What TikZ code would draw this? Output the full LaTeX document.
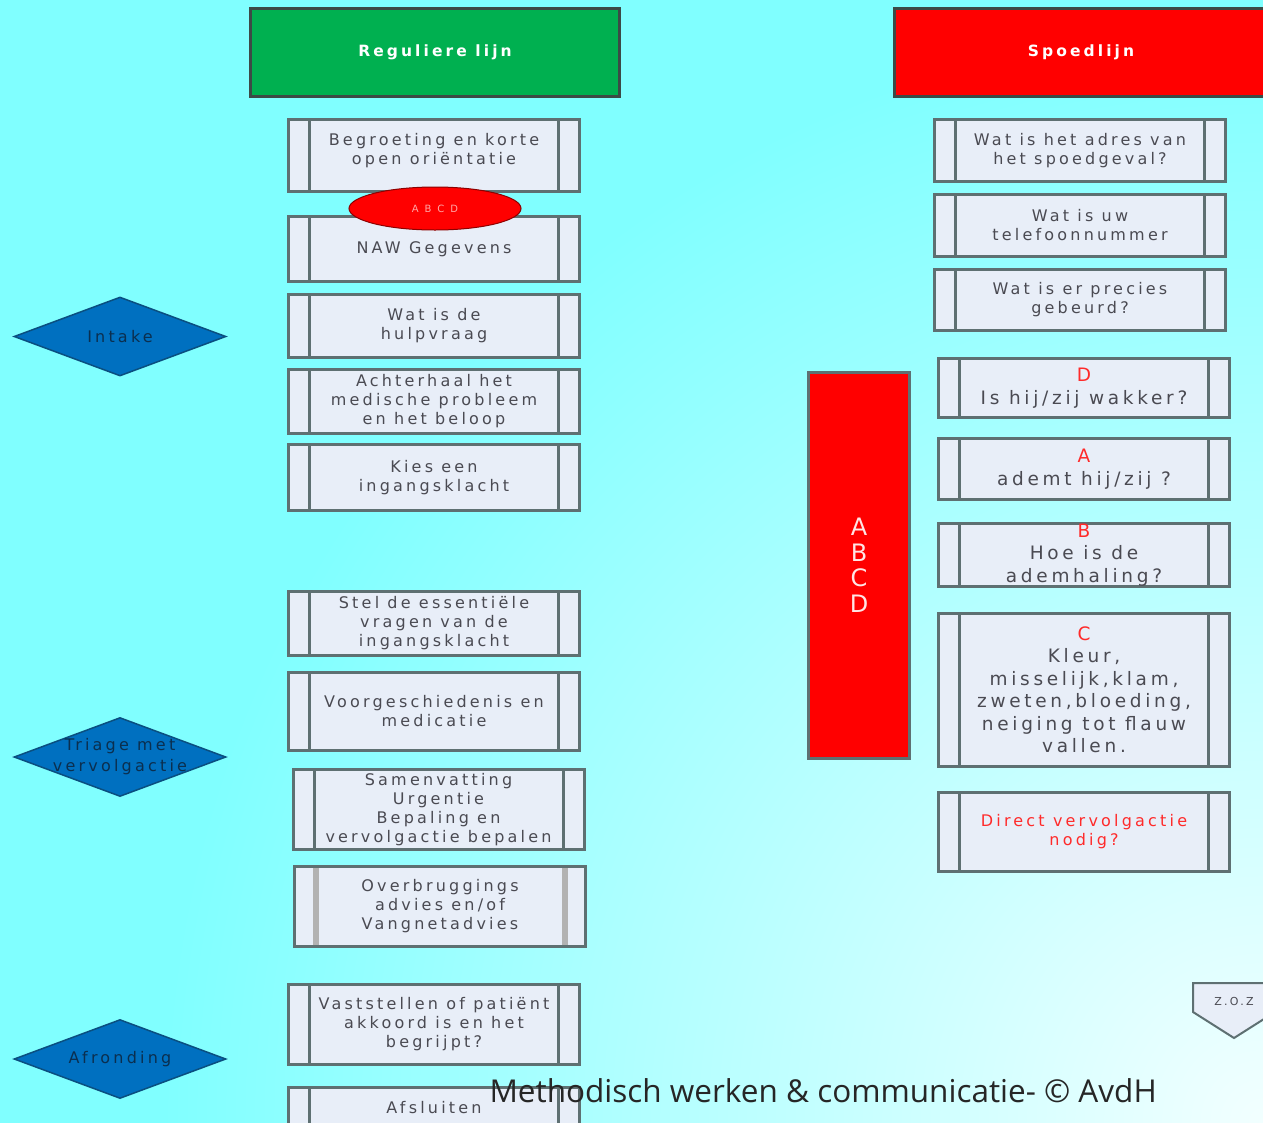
\documentclass[tikz,border=0pt]{standalone}
\usepackage{fontspec}
\setmainfont{DejaVu Sans}
\newfontfamily\boxfont[LetterSpace=20]{DejaVu Sans}
\newfontfamily\footfont{Open Sans}
\usetikzlibrary{shapes.geometric}

\definecolor{bgcyan}{HTML}{80FFFF}
\definecolor{bglight}{HTML}{F2FFFF}
\definecolor{boxfill}{HTML}{E8EEF8}
\definecolor{boxline}{HTML}{5E7072}
\definecolor{boxtext}{HTML}{4A4A52}
\definecolor{redtxt}{HTML}{FF2A2A}
\definecolor{hdgreen}{HTML}{00B050}
\definecolor{hdred}{HTML}{FF0000}
\definecolor{hdline}{HTML}{3C4A46}
\definecolor{diamfill}{HTML}{0070C0}
\definecolor{diamline}{HTML}{0A4F80}
\definecolor{diamtext}{HTML}{0B2F4F}

\tikzset{
  procinner/.style={boxline, line width=3pt},
  procbox/.style={draw=boxline, fill=boxfill, line width=3pt,
    minimum width=291pt, minimum height=#1, inner sep=0pt,
    align=center, text=boxtext, font=\boxfont\fontsize{16}{19}\selectfont,
    path picture={
      \draw[procinner]
        ([xshift=21pt]path picture bounding box.north west) -- ([xshift=21pt]path picture bounding box.south west)
        ([xshift=-21pt]path picture bounding box.north east) -- ([xshift=-21pt]path picture bounding box.south east);}},
  procbox/.default=63pt,
  abcdtext/.style={font=\boxfont\fontsize{18.5}{22.5}\selectfont},
  header/.style={minimum width=369pt, minimum height=88pt, line width=3pt, draw=hdline,
    text=white, font=\boxfont\bfseries\fontsize{15.5}{18}\selectfont},
  phase/.style={diamond, aspect=2.7, fill=diamfill, draw=diamline, line width=1.5pt,
    minimum width=212pt, minimum height=79pt, inner sep=0pt},
  phasetext/.style={align=center, text=diamtext, inner sep=0pt,
    font=\boxfont\fontsize{16}{21}\selectfont},
}

\begin{document}
\begin{tikzpicture}[x=1pt,y=-1pt]
\useasboundingbox (0,0) rectangle (1263,1122);
\fill[bgcyan] (-10,-10) rectangle (1273,1132);
\clip (0,0) rectangle (1263,1122);
\shade[inner color=bglight, outer color=bgcyan] (1263,1122) circle (1100);

% kopjes
\node[header, fill=hdgreen] (regulier) at (435,52.5) {Reguliere lijn};
\node[header, fill=hdred, minimum width=373pt] (spoed) at (1081,52.5) {Spoedlijn};

% fasen
\node[phase] (intake) at (120,336.5) {};
\node[phasetext] at (intake.center) {Intake};
\node[phase] (triage) at (120,757) {};
\node[phasetext] at (triage.center) {Triage met\\vervolgactie};
\node[phase] (afrond) at (120,1059) {};
\node[phasetext] at (afrond.center) {Afronding};

% reguliere lijn
\node[procbox=72pt] (begroet) at (434,155.5) {Begroeting en korte\\open oriëntatie\\[-12pt]\strut};
\node[procbox=65pt] (naw) at (434,249) {NAW Gegevens};
\node[ellipse, fill=hdred, draw=red!55!black, line width=1pt, minimum width=172pt, minimum height=43pt,
  inner sep=0pt, text=red!35!white, font=\boxfont\fontsize{10}{12}\selectfont\addfontfeature{LetterSpace=60}] (abcdkort) at (435,208.5) {ABCD};
\node[procbox=63pt] (hulp) at (434,326) {Wat is de\\hulpvraag};
\node[procbox=64pt] (achter) at (434,401.5) {Achterhaal het\\medische probleem\\en het beloop};
\node[procbox=66pt] (kies) at (434,477.5) {Kies een\\ingangsklacht};
\node[procbox=64pt] (stel) at (434,623.5) {Stel de essentiële\\vragen van de\\ingangsklacht};
\node[procbox=78pt] (voorg) at (434,711.5) {Voorgeschiedenis en\\medicatie};
\node[procbox=80pt] (samen) at (438.5,809.5) {Samenvatting\\Urgentie\\Bepaling en\\vervolgactie bepalen};
\node[procbox=80pt, procinner/.style={gray!60, line width=6pt}] (overbr) at (440,906.5) {Overbruggings\\advies en/of\\Vangnetadvies};
\node[procbox=80pt] (vastst) at (434,1024.5) {Vaststellen of patiënt\\akkoord is en het\\begrijpt?};
\node[procbox=42pt] (afsl) at (434,1108) {Afsluiten};

% spoedlijn
\node[procbox=62pt] (adres) at (1080,150.5) {Wat is het adres van\\het spoedgeval?};
\node[procbox=62pt] (tel) at (1080,225.5) {Wat is uw\\telefoonnummer};
\node[procbox=61pt] (gebeurd) at (1080,300) {Wat is er precies\\gebeurd?};
\node[procbox=59pt, abcdtext] (wakker) at (1084,388) {\textcolor{redtxt}{D}\\Is hij/zij wakker?};
\node[procbox=61pt, abcdtext] (ademt) at (1084,469) {\textcolor{redtxt}{A}\\ademt hij/zij ?};
\node[procbox=61pt, abcdtext] (ademhaling) at (1084,555) {\textcolor{redtxt}{B}\\Hoe is de\\ademhaling?};
\node[procbox=153pt, abcdtext] (kleur) at (1084,690) {\textcolor{redtxt}{C}\\Kleur,\\misselijk,klam,\\zweten,bloeding,\\neiging tot flauw\\vallen.};
\node[procbox=79pt, text=redtxt] (direct) at (1084,832) {Direct vervolgactie\\nodig?};

\node[fill=hdred, draw=boxline, line width=3pt, minimum width=101pt, minimum height=386pt, inner sep=0pt,
  align=center, text=red!10!white, font=\fontsize{24}{25.5}\selectfont] (abcd) at (859,565) {A\\B\\C\\D};

% z.o.z.
\draw[boxline, fill=boxfill, line width=2pt] (1193,983) -- (1275,983) -- (1275,1012) -- (1234,1038) -- (1193,1012) -- cycle;
\node[text=boxtext, font=\boxfont\fontsize{11}{12}\selectfont] (zoz) at (1234,1001) {Z.O.Z};

\node[font=\footfont\fontsize{31.5}{36}\selectfont, text=black!85, anchor=base west] (credit) at (486,1102) {Methodisch werken \& communicatie- © AvdH};
\end{tikzpicture}
\end{document}
